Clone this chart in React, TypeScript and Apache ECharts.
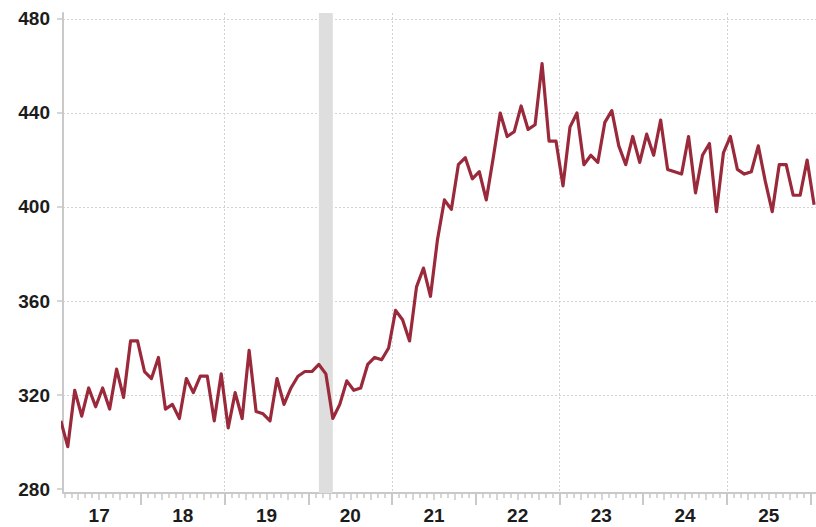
import React, { useEffect, useRef } from "react";
import * as echarts from "echarts";

// Monthly values, Jan..Dec of each year (mid-month points)
const v2017 = [309, 298, 322, 311, 323, 315, 323, 314, 331, 319, 343, 343];
const v2018 = [330, 327, 336, 314, 316, 310, 327, 321, 328, 328, 309, 329];
const v2019 = [306, 321, 310, 339, 313, 312, 309, 327, 316, 323, 328, 330];
const v2020 = [330, 333, 329, 310, 316, 326, 322, 323, 333, 336, 335, 340];
const v2021 = [356, 352, 343, 366, 374, 362, 386, 403, 399, 418, 421, 412];
const v2022 = [415, 403, 421, 440, 430, 432, 443, 433, 435, 461, 428, 428];
const v2023 = [409, 434, 440, 418, 422, 419, 436, 441, 426, 418, 430, 419];
const v2024 = [431, 422, 437, 416, 415, 414, 430, 406, 422, 427, 398, 423];
const v2025 = [430, 416, 414, 415, 426, 411, 398, 418, 418, 405, 405, 420];
const v2026 = [401];

const firstYear = 2017;
const yearlyValues = [v2017, v2018, v2019, v2020, v2021, v2022, v2023, v2024, v2025, v2026];

const yearLabels = ["17", "18", "19", "20", "21", "22", "23", "24", "25"];
const yTicks = [280, 320, 360, 400, 440, 480];
const gridYears = [2019, 2021, 2023, 2025];
// recession: [year, month] start and end (inclusive)
const recessionStart = [2020, 2];
const recessionEnd = [2020, 4];

const X_MIN = 2017.068;
const X_MAX = 2026.0645;
const Y_MIN = 278.3;
const Y_MAX = 482.55;

const midMonth = (y: number, m: number) => y + (m - 0.5) / 12;

export default function App() {
  const ref = useRef<HTMLDivElement>(null);

  useEffect(() => {
    if (!ref.current) return;
    const chart = echarts.init(ref.current, undefined, { renderer: "svg" });

    const data: number[][] = [];
    yearlyValues.forEach((arr, yi) =>
      arr.forEach((v, mi) => data.push([midMonth(firstYear + yi, mi + 1), v]))
    );

    const inRange = (v: number) => v > X_MIN && v < X_MAX;
    const yearTicks: number[] = [];
    const quarterTicks: number[] = [];
    const monthTicks: number[] = [];
    for (let y = firstYear; y <= 2026; y++) {
      for (let m = 0; m < 12; m++) {
        const v = y + m / 12;
        if (!inRange(v)) continue;
        if (m === 0) yearTicks.push(v);
        else if (m % 3 === 0) quarterTicks.push(v);
        else monthTicks.push(v);
      }
    }
    const labelValues = yearLabels.map((_, i) => firstYear + i + 0.5);

    const axisGrey = "#c9c9c9";
    const labelStyle = {
      color: "#1c1c1c",
      fontSize: 19,
      fontWeight: "bold" as const,
      fontFamily: "'Liberation Sans', Arial, sans-serif",
    };
    const hiddenX = (ticks: number[], len: number) => ({
      type: "value" as const,
      position: "bottom" as const,
      min: X_MIN,
      max: X_MAX,
      axisLine: { show: false, onZero: false },
      axisTick: { show: true, customValues: ticks, length: len, lineStyle: { color: axisGrey, width: 1.5 } },
      axisLabel: { show: false },
      splitLine: { show: false },
    });

    chart.setOption({
      animation: false,
      grid: { left: 63, right: 0, top: 13, bottom: 34, containLabel: false },
      xAxis: [
        {
          type: "value",
          position: "bottom",
          min: X_MIN,
          max: X_MAX,
          axisLine: { show: true, onZero: false, lineStyle: { color: axisGrey, width: 2 } },
          axisTick: { show: true, customValues: yearTicks, length: 12, lineStyle: { color: axisGrey, width: 2 } },
          axisLabel: {
            show: true,
            customValues: labelValues,
            margin: 13,
            formatter: (v: number) => yearLabels[Math.floor(v) - firstYear],
            ...labelStyle,
          },
          splitLine: { show: false },
        },
        hiddenX(quarterTicks, 7),
        hiddenX(monthTicks, 5),
        {
          type: "value",
          position: "bottom",
          min: X_MIN,
          max: X_MAX,
          axisLine: { show: false, onZero: false },
          axisTick: { show: false, customValues: gridYears },
          axisLabel: { show: false },
          splitLine: { show: true, lineStyle: { color: "#d2d2d2", width: 1, type: [2, 2] } },
        },
      ],
      yAxis: [
        {
          type: "value",
          position: "left",
          min: Y_MIN,
          max: Y_MAX,
          axisLine: { show: true, onZero: false, lineStyle: { color: axisGrey, width: 2 } },
          axisTick: { show: true, customValues: yTicks, length: 6, lineStyle: { color: axisGrey, width: 1.5 } },
          axisLabel: { show: true, customValues: yTicks, margin: 13, ...labelStyle },
          splitLine: { show: false },
        },
        {
          type: "value",
          position: "left",
          min: Y_MIN,
          max: Y_MAX,
          axisLine: { show: false, onZero: false },
          axisTick: { show: false, customValues: yTicks.slice(1) },
          axisLabel: { show: false },
          splitLine: { show: true, lineStyle: { color: "#d2d2d2", width: 1, type: [2, 2] } },
        },
      ],
      series: [
        {
          type: "line",
          xAxisIndex: 0,
          yAxisIndex: 0,
          data: [],
          z: 1,
          markArea: {
            silent: true,
            itemStyle: { color: "#dedede" },
            data: [
              [
                { xAxis: midMonth(recessionStart[0], recessionStart[1]) },
                { xAxis: midMonth(recessionEnd[0], recessionEnd[1]) },
              ],
            ],
          },
        },
        {
          type: "line",
          xAxisIndex: 0,
          yAxisIndex: 0,
          data,
          z: 3,
          showSymbol: false,
          symbol: "none",
          clip: true,
          lineStyle: { color: "#9a2a3b", width: 3.2, join: "round" },
        },
      ],
    });

    return () => chart.dispose();
  }, []);

  return (
    <div
      ref={ref}
      style={{ position: "fixed", left: 0, top: 0, width: 816, height: 527, background: "#fff" }}
    />
  );
}
